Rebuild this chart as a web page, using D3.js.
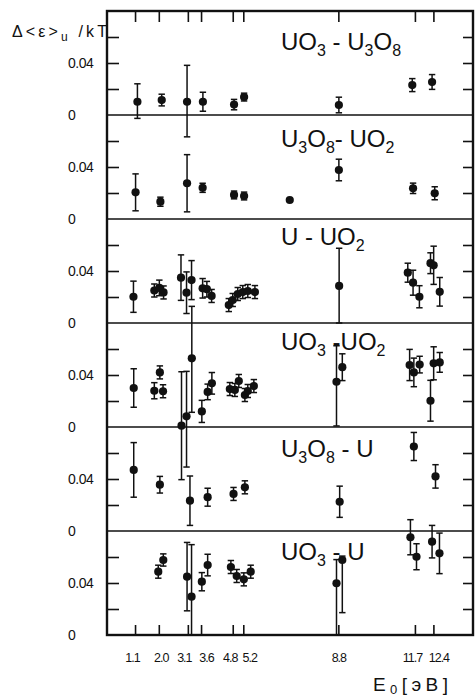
<!DOCTYPE html>
<html>
<head>
<meta charset="utf-8">
<script src="https://d3js.org/d3.v7.min.js"></script>
<style>
  body { margin: 0; background: #fff; }
  svg text { font-family: 'Liberation Sans', Arial, sans-serif; fill: #111; }
</style>
</head>
<body>
<script>
// energies of the tick marks (eV) and their labels
var energyTicks = [1.1, 2.0, 3.1, 3.6, 4.8, 5.2, 8.8, 11.7, 12.4]
var energyLabels = ['1.1', '2.0', '3.1', '3.6', '4.8', '5.2', '8.8', '11.7', '12.4']

// panel names, "_" marks a one-character subscript
var panelNames = ['UO_3 - U_3O_8', 'U_3O_8- UO_2', 'U - UO_2', 'UO_3 -UO_2', 'U_3O_8 - U', 'UO_3 - U']

// rows: [E0, value, error down, error up]
var uo3_u3o8 = [
  [1.19, 0.0102, 0.0128, 0.0138], [2.11, 0.0115, 0.0045, 0.0045], [3.07, 0.0102, 0.027, 0.028],
  [3.67, 0.0102, 0.0073, 0.0073], [4.85, 0.008, 0.004, 0.004], [5.23, 0.0138, 0.003, 0.003],
  [8.82, 0.0077, 0.006, 0.006], [11.6, 0.023, 0.005, 0.005], [12.35, 0.0254, 0.0057, 0.0057]
]
var u3o8_uo2 = [
  [1.12, 0.0205, 0.0142, 0.0142], [2.06, 0.0133, 0.0035, 0.0035], [3.07, 0.0275, 0.022, 0.022],
  [3.66, 0.024, 0.0035, 0.0035], [4.85, 0.0185, 0.003, 0.003], [5.23, 0.0177, 0.003, 0.003],
  [6.96, 0.0146, 0.001, 0.001], [8.82, 0.0377, 0.0083, 0.0083], [11.63, 0.0236, 0.004, 0.004],
  [12.45, 0.0198, 0.005, 0.005]
]
var u_uo2 = [
  [1.04, 0.0202, 0.012, 0.012], [1.83, 0.025, 0.005, 0.005], [2.02, 0.027, 0.006, 0.006],
  [2.18, 0.0235, 0.005, 0.005], [2.84, 0.0349, 0.0175, 0.0175], [3.05, 0.0233, 0.016, 0.016],
  [3.24, 0.033, 0.015, 0.015], [3.66, 0.0267, 0.0075, 0.0075], [3.82, 0.026, 0.006, 0.006],
  [4.0, 0.0208, 0.005, 0.005], [4.65, 0.0138, 0.005, 0.005], [4.8, 0.0177, 0.005, 0.005],
  [4.99, 0.0223, 0.005, 0.005], [5.18, 0.0238, 0.005, 0.005], [5.37, 0.0246, 0.005, 0.005],
  [5.64, 0.0238, 0.005, 0.005], [8.83, 0.0285, 0.0285, 0.029], [11.43, 0.0387, 0.0073, 0.0073],
  [11.63, 0.031, 0.0096, 0.0096], [11.87, 0.0202, 0.0085, 0.0085], [12.29, 0.046, 0.008, 0.008],
  [12.41, 0.0444, 0.0147, 0.0147], [12.64, 0.024, 0.011, 0.011]
]
var uo3_uo2 = [
  [1.05, 0.030, 0.0148, 0.0148], [1.83, 0.0279, 0.0062, 0.0062], [2.04, 0.042, 0.005, 0.005],
  [2.16, 0.0275, 0.005, 0.005], [2.86, 0.001, 0.0415, 0.0415], [3.05, 0.0082, 0.039, 0.0346],
  [3.25, 0.0528, 0.0415, 0.040], [3.63, 0.012, 0.0085, 0.0085], [3.85, 0.027, 0.006, 0.006],
  [4.01, 0.0336, 0.0083, 0.0083], [4.69, 0.0292, 0.005, 0.005], [4.88, 0.0285, 0.005, 0.005],
  [5.03, 0.0354, 0.005, 0.005], [5.26, 0.0246, 0.005, 0.005], [5.37, 0.0277, 0.005, 0.005],
  [5.6, 0.0315, 0.005, 0.005], [8.73, 0.0348, 0.034, 0.0277], [8.95, 0.046, 0.0103, 0.0103],
  [11.5, 0.0477, 0.012, 0.012], [11.66, 0.042, 0.011, 0.011], [11.88, 0.048, 0.0064, 0.0064],
  [12.29, 0.0202, 0.0157, 0.0157], [12.41, 0.049, 0.0127, 0.0127], [12.64, 0.0497, 0.0076, 0.0076]
]
var u3o8_u = [
  [1.05, 0.047, 0.021, 0.021], [2.04, 0.0356, 0.0064, 0.0064], [3.18, 0.0233, 0.019, 0.019],
  [3.85, 0.026, 0.0069, 0.0069], [4.83, 0.0285, 0.005, 0.005], [5.26, 0.0336, 0.005, 0.005],
  [8.85, 0.0225, 0.012, 0.012], [11.66, 0.065, 0.0108, 0.0108], [12.48, 0.042, 0.009, 0.009]
]
var uo3_u = [
  [1.98, 0.0487, 0.005, 0.005], [2.17, 0.0577, 0.0047, 0.0047], [3.07, 0.0449, 0.0263, 0.0263],
  [3.24, 0.0295, 0.0295, 0.040], [3.63, 0.041, 0.007, 0.007], [3.85, 0.0538, 0.0083, 0.0083],
  [4.73, 0.0523, 0.005, 0.005], [4.95, 0.0454, 0.005, 0.005], [5.22, 0.0428, 0.005, 0.005],
  [5.48, 0.0487, 0.005, 0.005], [8.73, 0.0398, 0.0398, 0.0182], [8.95, 0.0577, 0.0405, 0.0030],
  [11.53, 0.0752, 0.0135, 0.0135], [11.76, 0.0602, 0.01, 0.01], [12.35, 0.0718, 0.0125, 0.0125],
  [12.63, 0.0628, 0.0156, 0.0156]
]
var panelData = [uo3_u3o8, u3o8_uo2, u_uo2, uo3_uo2, u3o8_u, uo3_u]

var w = 476
var h = 698
var plotLeft = 107, plotRight = 473, plotTop = 11, panelH = 104
var labelDrop = [39, 32, 26, 27, 30, 29]
// the crowded energy labels are nudged apart, as in the print
var labelNudge = [-3, 2, -4, 5, -3, 6, 0, -3, 5]

var svg = d3.select('body').append('svg').attr('width', w).attr('height', h)

var x = d3.scaleLinear().domain([0, 13.9]).range([106, 473])

panelData.forEach(function(rows, p) {
  var pTop = plotTop + p * panelH
  var y = d3.scaleLinear().domain([0, 0.08]).range([pTop + panelH, pTop])
  var g = svg.append('g')

  // inward ticks on both sides
  g.append('g').attr('transform', 'translate(' + plotLeft + ',0)')
    .call(d3.axisLeft(y).tickValues([0.02, 0.04, 0.06]).tickSize(-12).tickFormat(''))
  g.append('g').attr('transform', 'translate(' + plotRight + ',0)')
    .call(d3.axisRight(y).tickValues([0.02, 0.04, 0.06]).tickSize(-10).tickFormat(''))
  g.selectAll('.domain').remove()
  g.selectAll('.tick line').attr('stroke', '#111').attr('stroke-width', 1.6)

  // zero line
  g.append('line').attr('x1', plotLeft).attr('x2', plotRight)
    .attr('y1', y(0)).attr('y2', y(0)).attr('stroke', '#111').attr('stroke-width', 1.6)

  // tick labels
  g.selectAll('text.yl').data([0, 0.04]).enter().append('text')
    .attr('class', 'yl')
    .attr('x', 68)
    .attr('y', function(d) { return y(d) + 5 })
    .attr('font-size', '14px')
    .attr('letter-spacing', '-0.5px')
    .text(function(d) { return d === 0 ? '0' : '0.04' })

  // error bars
  var bars = g.selectAll('g.bar').data(rows).enter().append('g').attr('class', 'bar')
  bars.append('line')
    .attr('x1', function(d) { return x(d[0]) }).attr('x2', function(d) { return x(d[0]) })
    .attr('y1', function(d) { return y(d[1] - d[2]) }).attr('y2', function(d) { return y(d[1] + d[3]) })
    .attr('stroke', '#111').attr('stroke-width', 1.5)
  ;[[2, -1], [3, 1]].forEach(function(c) {
    bars.append('line')
      .attr('x1', function(d) { return x(d[0]) - 3.2 }).attr('x2', function(d) { return x(d[0]) + 3.2 })
      .attr('y1', function(d) { return y(d[1] + c[1] * d[c[0]]) })
      .attr('y2', function(d) { return y(d[1] + c[1] * d[c[0]]) })
      .attr('stroke', '#111').attr('stroke-width', 1.5)
  })
  bars.append('circle')
    .attr('cx', function(d) { return x(d[0]) })
    .attr('cy', function(d) { return y(d[1]) })
    .attr('r', 4.1)
    .attr('fill', '#111')

  // panel name with subscripts
  var t = g.append('text').attr('x', 281).attr('y', pTop + labelDrop[p]).attr('font-size', '24px')
  var name = panelNames[p]
  var sub = false
  for (var i = 0; i < name.length; i++) {
    if (name[i] === '_') {
      t.append('tspan').attr('font-size', '16px').attr('dy', 6).text(name[i + 1])
      sub = true
      i++
    } else {
      var j = i
      while (j < name.length && name[j] !== '_') j++
      t.append('tspan').attr('dy', sub ? -6 : 0).text(name.slice(i, j))
      sub = false
      i = j - 1
    }
  }
})

// energy axis, ticks on top and bottom
var bottomY = plotTop + 6 * panelH
var xb = svg.append('g').attr('transform', 'translate(0,' + bottomY + ')')
  .call(d3.axisBottom(x).tickValues(energyTicks).tickSize(-10).tickPadding(18)
    .tickFormat(function(d, i) { return energyLabels[i] }))
var xt = svg.append('g').attr('transform', 'translate(0,' + plotTop + ')')
  .call(d3.axisTop(x).tickValues(energyTicks).tickSize(-11).tickFormat(''))
svg.selectAll('.domain').remove()
xb.selectAll('.tick line').attr('stroke', '#111').attr('stroke-width', 1.6)
xt.selectAll('.tick line').attr('stroke', '#111').attr('stroke-width', 1.6)
xb.selectAll('.tick text').attr('font-size', '12.5px').attr('letter-spacing', '-1px')
  .attr('font-family', "'Liberation Sans', Arial, sans-serif").attr('fill', '#111')
  .attr('dx', function(d, i) { return labelNudge[i] })

// frame
svg.append('rect').attr('x', plotLeft).attr('y', plotTop)
  .attr('width', plotRight - plotLeft).attr('height', 6 * panelH)
  .attr('fill', 'none').attr('stroke', '#111').attr('stroke-width', 2.4)

// axis titles
var yt = svg.append('text').attr('x', 12).attr('y', 37).attr('font-size', '16px')
  .attr('textLength', 95).attr('lengthAdjust', 'spacing')
yt.append('tspan').text('Δ<ε>')
yt.append('tspan').attr('font-size', '12px').attr('dy', 4).text('u')
yt.append('tspan').attr('dy', -4).text(' /kT')

var xtl = svg.append('text').attr('x', 373).attr('y', 691).attr('font-size', '19px')
  .attr('textLength', 75).attr('lengthAdjust', 'spacing')
xtl.append('tspan').text('E')
xtl.append('tspan').attr('font-size', '13px').attr('dy', 3).text('0')
xtl.append('tspan').attr('dy', -3).text('[эВ]')
</script>
</body>
</html>
